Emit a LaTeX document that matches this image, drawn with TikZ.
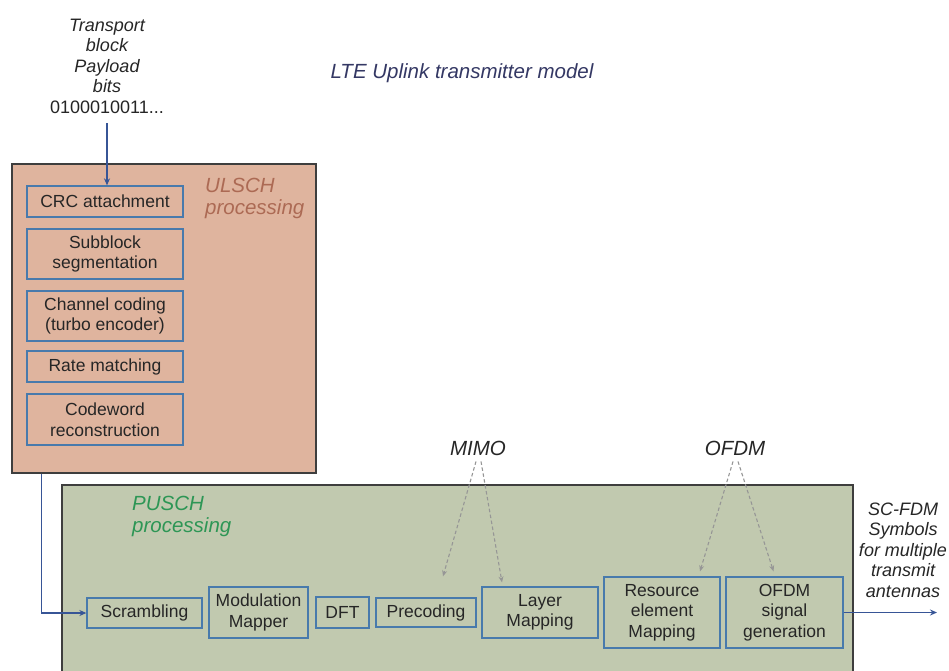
\documentclass[tikz,border=0pt]{standalone}
\usepackage{fontspec}
\setmainfont{Liberation Sans}
\usetikzlibrary{calc,arrows.meta}

\definecolor{ulfill}{RGB}{223,180,158}
\definecolor{pufill}{RGB}{193,201,175}
\definecolor{boxblue}{RGB}{72,122,172}
\definecolor{framecol}{RGB}{62,62,62}
\definecolor{arrowblue}{RGB}{55,85,150}
\definecolor{titlecol}{RGB}{52,56,100}
\definecolor{ulcol}{RGB}{172,106,84}
\definecolor{pucol}{RGB}{45,150,85}
\definecolor{txt}{RGB}{38,38,38}
\definecolor{dashcol}{RGB}{150,150,150}

\begin{document}
\begin{tikzpicture}[x=1pt,y=-1pt,
  blk/.style={draw=boxblue, line width=1.3pt, text=txt, align=center,
    inner sep=0pt, font=\fontsize{17.5}{20.5}\selectfont},
  group/.style={draw=framecol, line width=1.4pt, inner sep=0pt},
  lbl/.style={text=txt, align=center, inner sep=0pt,
    font=\fontsize{18}{20.5}\selectfont\itshape},
  biglbl/.style={inner sep=0pt, align=left,
    font=\fontsize{20.5}{22}\selectfont\itshape},
  flow/.style={draw=arrowblue, line width=1.2pt, -{Stealth[length=7pt,width=6pt]}},
  hint/.style={draw=dashcol, line width=1.1pt, dash pattern=on 3.5pt off 2.5pt,
    -{Stealth[length=6pt,width=5pt]}}]

\useasboundingbox (0,0) rectangle (949,670);
\fill[white] (0,0) rectangle (949,670);

% processing groups
\node[group, fill=ulfill, minimum width=304pt, minimum height=309pt] (ul) at (164,318.5) {};
\node[group, fill=pufill, minimum width=791pt, minimum height=205pt] (pu) at (457.5,587.5) {};

% title and group labels
\node[inner sep=0pt, text=titlecol, font=\fontsize{20.5}{22}\selectfont\itshape] (title) at (462,73) {LTE Uplink transmitter model};
\node[biglbl, text=ulcol, anchor=north west] (ullbl) at (205,178) {ULSCH\\processing};
\node[biglbl, text=pucol, anchor=north west] (pulbl) at (132,496) {PUSCH\\processing};

% transport block input
\node[lbl] (tb) at (107,66) {Transport\\block\\Payload\\bits\\\upshape 0100010011...};

% ULSCH chain
\node[blk, minimum width=156pt, minimum height=31pt] (crc) at (105,201.5) {CRC attachment};
\node[blk, minimum width=156pt, minimum height=50pt] (seg) at (105,254) {Subblock\\segmentation};
\node[blk, minimum width=156pt, minimum height=50pt] (cc) at (105,316) {Channel coding\\(turbo encoder)};
\node[blk, minimum width=156pt, minimum height=31pt] (rm) at (105,366.5) {Rate matching};
\node[blk, minimum width=156pt, minimum height=51pt] (cw) at (105,419.5) {Codeword\\reconstruction};

% PUSCH chain
\node[blk, minimum width=115pt, minimum height=30pt] (scr) at (144.5,613) {Scrambling};
\node[blk, minimum width=99pt, minimum height=51pt] (mod) at (258.5,612.5) {Modulation\\Mapper};
\node[blk, minimum width=53pt, minimum height=31pt] (dft) at (342.5,612.5) {DFT};
\node[blk, minimum width=100pt, minimum height=29pt] (prec) at (426,612.5) {Precoding};
\node[blk, minimum width=116pt, minimum height=51pt] (lay) at (540,612.5) {Layer\\Mapping};
\node[blk, minimum width=116pt, minimum height=71pt] (rem) at (662,612.5) {Resource\\element\\Mapping};
\node[blk, minimum width=117pt, minimum height=71pt] (ofdm) at (784.5,612.5) {OFDM\\signal\\generation};

% annotations
\node[lbl, font=\fontsize{20.5}{22}\selectfont\itshape] (mimo) at (478,448) {MIMO};
\node[lbl, font=\fontsize{20.5}{22}\selectfont\itshape] (ofdmlbl) at (735,448) {OFDM};
\node[lbl] (out) at (903,550) {SC-FDM\\Symbols\\for multiple\\transmit\\antennas};

% solid connectors
\draw[flow] (tb.south) ++(0,10) -- (tb.south |- crc.north);
\draw[flow] ($(ul.south west)+(30,0)$) |- (scr.west);
\coordinate (txout) at (937,612.5);
\draw[flow] (ofdm.east) -- (txout);

% dashed hints
\draw[hint] ($(mimo.south)+(-2,6)$) -- ($(prec.north)+(17,-21)$);
\draw[hint] ($(mimo.south)+(3,6)$) -- ($(lay.north)+(-38,-4)$);
\draw[hint] ($(ofdmlbl.south)+(-2,6)$) -- ($(rem.north)+(38,-5)$);
\draw[hint] ($(ofdmlbl.south)+(3,6)$) -- ($(ofdm.north)+(-11,-5)$);
\end{tikzpicture}
\end{document}
